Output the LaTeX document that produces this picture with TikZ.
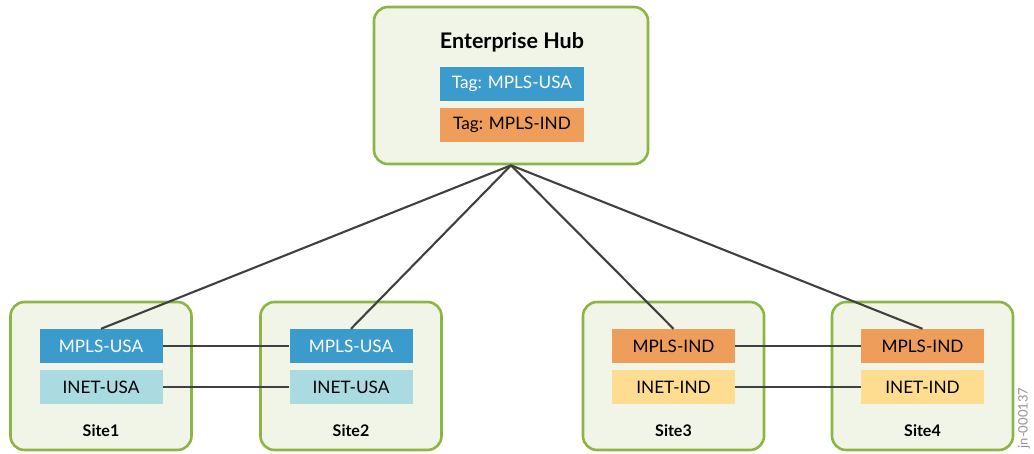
\documentclass[tikz,border=0pt]{standalone}
\usepackage{fontspec}
\setmainfont{Lato}
\definecolor{gborder}{HTML}{8CB543}
\definecolor{gfill}{HTML}{F1F5E8}
\definecolor{mblue}{HTML}{3C9BCD}
\definecolor{lblue}{HTML}{A9DBE1}
\definecolor{morange}{HTML}{EE9E5A}
\definecolor{lyellow}{HTML}{FEDD91}
\definecolor{linec}{HTML}{404040}
\tikzset{
  container/.style={draw=gborder, fill=gfill, line width=2.6pt, rounded corners=14pt, inner sep=0pt},
  tagbox/.style={inner sep=0pt, minimum width=123pt, minimum height=34pt, font=\fontsize{17.2}{19}\selectfont, text=black},
  link/.style={draw=linec, line width=2.1pt},
  sitelabel/.style={font=\fontsize{16}{18}\selectfont\bfseries}
}
\begin{document}
\begin{tikzpicture}[x=1pt,y=-1pt]
\useasboundingbox (0,0) rectangle (1034,453);
% hub
\node[container, minimum width=274pt, minimum height=157pt] (hub) at (511,85.5) {};
\node[font=\fontsize{21.5}{24}\selectfont\bfseries] (hubtitle) at (512,42) {Enterprise Hub};
\node[tagbox, fill=mblue, text=white, minimum width=144pt] (tagusa) at (512,84) {Tag: MPLS-USA};
\node[tagbox, fill=morange, minimum width=144pt] (tagind) at (512,125) {Tag: MPLS-IND};
% sites
\foreach \n/\x in {1/101,2/351,3/673.5,4/922.5}{
  \node[container, minimum width=181pt, minimum height=148pt] (site\n) at (\x,376) {};
  \node[sitelabel] (sitelab\n) at (\x,431) {Site\n};
}
\node[tagbox, fill=mblue, text=white] (m1) at (101,346) {MPLS-USA};
\node[tagbox, fill=lblue] (i1) at (101,387) {INET-USA};
\node[tagbox, fill=mblue, text=white] (m2) at (351,346) {MPLS-USA};
\node[tagbox, fill=lblue] (i2) at (351,387) {INET-USA};
\node[tagbox, fill=morange] (m3) at (673.5,346) {MPLS-IND};
\node[tagbox, fill=lyellow] (i3) at (673.5,387) {INET-IND};
\node[tagbox, fill=morange] (m4) at (922.5,346) {MPLS-IND};
\node[tagbox, fill=lyellow] (i4) at (922.5,387) {INET-IND};
% links
\foreach \s in {m1,m2,m3,m4}{
  \draw[link] (hub.south) -- (\s.north);
}
\draw[link] (m1) -- (m2);
\draw[link] (i1) -- (i2);
\draw[link] (m3) -- (m4);
\draw[link] (i3) -- (i4);
% id
\node[rotate=90, text=gray!85, font=\fontsize{13}{15}\selectfont] (jid) at (1024,418) {jn-000137};
\end{tikzpicture}
\end{document}
